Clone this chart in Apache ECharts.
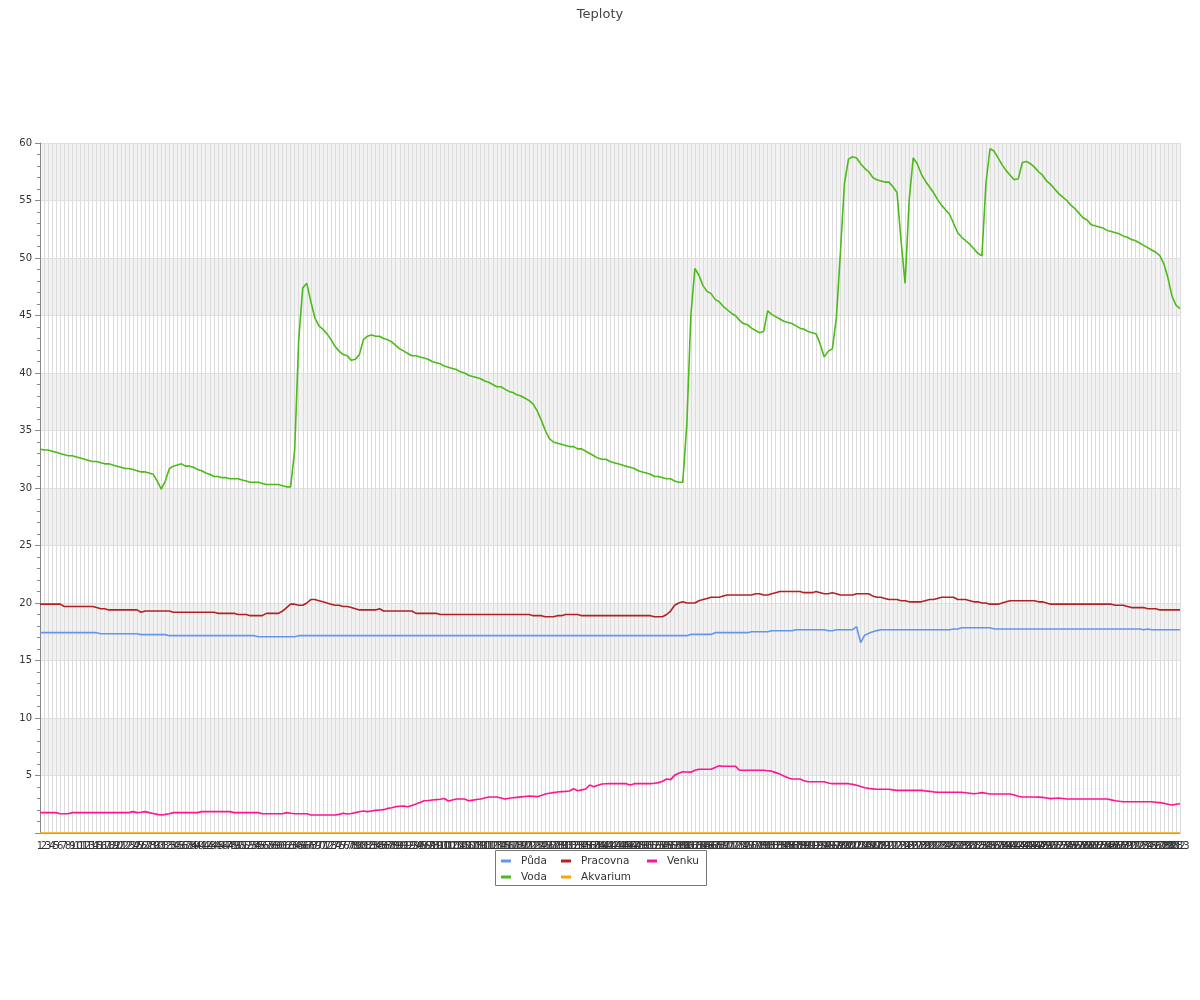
<!DOCTYPE html>
<html>
<head>
<meta charset="utf-8">
<script src="https://cdn.jsdelivr.net/npm/echarts@6/dist/echarts.min.js"></script>
<style>html,body{margin:0;padding:0;background:#fff}#c{width:1200px;height:1000px}</style>
</head>
<body>
<div id="c"></div>
<script>
const titleText = 'Teploty';
const yTicks = [0, 5, 10, 15, 20, 25, 30, 35, 40, 45, 50, 55, 60];

const puda = [
17.42,17.42,17.42,17.42,17.42,17.42,17.42,17.42,17.42,17.42,
17.42,17.42,17.42,17.42,17.42,17.33,17.33,17.33,17.33,17.33,
17.33,17.33,17.33,17.33,17.33,17.25,17.25,17.25,17.25,17.25,
17.25,17.25,17.16,17.16,17.16,17.16,17.16,17.16,17.16,17.16,
17.16,17.16,17.16,17.16,17.16,17.16,17.16,17.16,17.16,17.16,
17.16,17.16,17.16,17.16,17.07,17.07,17.07,17.07,17.07,17.07,
17.07,17.07,17.07,17.07,17.16,17.16,17.16,17.16,17.16,17.16,
17.16,17.16,17.16,17.16,17.16,17.16,17.16,17.16,17.16,17.16,
17.16,17.16,17.16,17.16,17.16,17.16,17.16,17.16,17.16,17.16,
17.16,17.16,17.16,17.16,17.16,17.16,17.16,17.16,17.16,17.16,
17.16,17.16,17.16,17.16,17.16,17.16,17.16,17.16,17.16,17.16,
17.16,17.16,17.16,17.16,17.16,17.16,17.16,17.16,17.16,17.16,
17.16,17.16,17.16,17.16,17.16,17.16,17.16,17.16,17.16,17.16,
17.16,17.16,17.16,17.16,17.16,17.16,17.16,17.16,17.16,17.16,
17.16,17.16,17.16,17.16,17.16,17.16,17.16,17.16,17.16,17.16,
17.16,17.16,17.16,17.16,17.16,17.16,17.16,17.16,17.16,17.16,
17.16,17.27,17.27,17.27,17.27,17.27,17.27,17.42,17.42,17.42,
17.42,17.42,17.42,17.42,17.42,17.42,17.5,17.5,17.5,17.5,
17.5,17.59,17.59,17.59,17.59,17.59,17.59,17.68,17.68,17.68,
17.68,17.68,17.68,17.68,17.68,17.59,17.59,17.68,17.68,17.68,
17.68,17.68,17.94,16.55,17.2,17.36,17.5,17.6,17.68,17.68,
17.68,17.68,17.68,17.68,17.68,17.68,17.68,17.68,17.68,17.68,
17.68,17.68,17.68,17.68,17.68,17.68,17.74,17.74,17.85,17.85,
17.85,17.85,17.85,17.85,17.85,17.85,17.74,17.74,17.74,17.74,
17.74,17.74,17.74,17.74,17.74,17.74,17.74,17.74,17.74,17.74,
17.74,17.74,17.74,17.74,17.74,17.74,17.74,17.74,17.74,17.74,
17.74,17.74,17.74,17.74,17.74,17.74,17.74,17.74,17.74,17.74,
17.74,17.74,17.74,17.68,17.74,17.68,17.68,17.68,17.68,17.68,
17.68,17.68,17.68
];

const voda = [
33.4,33.3,33.3,33.2,33.1,33.0,32.9,32.8,32.8,32.7,
32.6,32.5,32.4,32.3,32.3,32.2,32.1,32.1,32.0,31.9,
31.8,31.7,31.7,31.6,31.5,31.4,31.4,31.3,31.2,30.6,
29.9,30.6,31.7,31.9,32.0,32.1,31.9,31.9,31.8,31.6,
31.5,31.3,31.2,31.0,31.0,30.9,30.9,30.8,30.8,30.8,
30.7,30.6,30.5,30.5,30.5,30.4,30.3,30.3,30.3,30.3,
30.2,30.1,30.1,33.3,42.9,47.4,47.8,46.2,44.8,44.1,
43.8,43.4,42.9,42.3,41.9,41.6,41.5,41.1,41.2,41.6,
42.9,43.2,43.3,43.2,43.2,43.0,42.9,42.7,42.4,42.1,
41.9,41.7,41.5,41.5,41.4,41.3,41.2,41.0,40.9,40.8,
40.6,40.5,40.4,40.3,40.1,40.0,39.8,39.7,39.6,39.5,
39.3,39.2,39.0,38.8,38.8,38.6,38.4,38.3,38.1,38.0,
37.8,37.6,37.3,36.7,35.9,35.0,34.3,34.0,33.9,33.8,
33.7,33.6,33.6,33.4,33.4,33.2,33.0,32.8,32.6,32.5,
32.5,32.3,32.2,32.1,32.0,31.9,31.8,31.7,31.5,31.4,
31.3,31.2,31.0,31.0,30.9,30.8,30.8,30.6,30.5,30.5,
35.5,45.0,49.1,48.5,47.6,47.1,46.9,46.4,46.2,45.8,
45.5,45.2,45.0,44.6,44.3,44.2,43.9,43.7,43.5,43.6,
45.4,45.1,44.9,44.7,44.5,44.4,44.3,44.1,43.9,43.8,
43.6,43.5,43.4,42.5,41.4,41.9,42.1,44.8,50.5,56.5,
58.6,58.8,58.7,58.2,57.8,57.5,57.0,56.8,56.7,56.6,
56.6,56.2,55.7,51.5,47.8,55.0,58.7,58.2,57.3,56.7,
56.2,55.7,55.1,54.6,54.2,53.8,53.0,52.2,51.8,51.5,
51.2,50.8,50.4,50.2,56.5,59.5,59.3,58.7,58.1,57.6,
57.2,56.8,56.9,58.3,58.4,58.2,57.9,57.5,57.2,56.7,
56.4,56.0,55.6,55.3,55.0,54.6,54.3,53.9,53.5,53.3,
52.9,52.8,52.7,52.6,52.4,52.3,52.2,52.1,51.9,51.8,
51.6,51.5,51.3,51.1,50.9,50.7,50.5,50.2,49.5,48.3,
46.7,45.9,45.6
];

const pracovna = [
19.9,19.9,19.9,19.9,19.9,19.9,19.7,19.7,19.7,19.7,
19.7,19.7,19.7,19.7,19.6,19.5,19.5,19.4,19.4,19.4,
19.4,19.4,19.4,19.4,19.4,19.2,19.3,19.3,19.3,19.3,
19.3,19.3,19.3,19.2,19.2,19.2,19.2,19.2,19.2,19.2,
19.2,19.2,19.2,19.2,19.1,19.1,19.1,19.1,19.1,19.0,
19.0,19.0,18.9,18.9,18.9,18.9,19.1,19.1,19.1,19.1,
19.3,19.6,19.9,19.9,19.8,19.8,20.0,20.3,20.3,20.2,
20.1,20.0,19.9,19.8,19.8,19.7,19.7,19.6,19.5,19.4,
19.4,19.4,19.4,19.4,19.5,19.3,19.3,19.3,19.3,19.3,
19.3,19.3,19.3,19.1,19.1,19.1,19.1,19.1,19.1,19.0,
19.0,19.0,19.0,19.0,19.0,19.0,19.0,19.0,19.0,19.0,
19.0,19.0,19.0,19.0,19.0,19.0,19.0,19.0,19.0,19.0,
19.0,19.0,18.9,18.9,18.9,18.8,18.8,18.8,18.9,18.9,
19.0,19.0,19.0,19.0,18.9,18.9,18.9,18.9,18.9,18.9,
18.9,18.9,18.9,18.9,18.9,18.9,18.9,18.9,18.9,18.9,
18.9,18.9,18.8,18.8,18.8,19.0,19.3,19.8,20.0,20.1,
20.0,20.0,20.0,20.2,20.3,20.4,20.5,20.5,20.5,20.6,
20.7,20.7,20.7,20.7,20.7,20.7,20.7,20.8,20.8,20.7,
20.7,20.8,20.9,21.0,21.0,21.0,21.0,21.0,21.0,20.9,
20.9,20.9,21.0,20.9,20.8,20.8,20.9,20.8,20.7,20.7,
20.7,20.7,20.8,20.8,20.8,20.8,20.6,20.5,20.5,20.4,
20.3,20.3,20.3,20.2,20.2,20.1,20.1,20.1,20.1,20.2,
20.3,20.3,20.4,20.5,20.5,20.5,20.5,20.3,20.3,20.3,
20.2,20.1,20.1,20.0,20.0,19.9,19.9,19.9,20.0,20.1,
20.2,20.2,20.2,20.2,20.2,20.2,20.2,20.1,20.1,20.0,
19.9,19.9,19.9,19.9,19.9,19.9,19.9,19.9,19.9,19.9,
19.9,19.9,19.9,19.9,19.9,19.9,19.8,19.8,19.8,19.7,
19.6,19.6,19.6,19.6,19.5,19.5,19.5,19.4,19.4,19.4,
19.4,19.4,19.4
];

const akvarium = [
0,0,0,0,0,0,0,0,0,0, 0,0,0,0,0,0,0,0,0,0, 0,0,0,0,0,0,0,0,0,0,
0,0,0,0,0,0,0,0,0,0, 0,0,0,0,0,0,0,0,0,0, 0,0,0,0,0,0,0,0,0,0,
0,0,0,0,0,0,0,0,0,0, 0,0,0,0,0,0,0,0,0,0, 0,0,0,0,0,0,0,0,0,0,
0,0,0,0,0,0,0,0,0,0, 0,0,0,0,0,0,0,0,0,0, 0,0,0,0,0,0,0,0,0,0,
0,0,0,0,0,0,0,0,0,0, 0,0,0,0,0,0,0,0,0,0, 0,0,0,0,0,0,0,0,0,0,
0,0,0,0,0,0,0,0,0,0, 0,0,0,0,0,0,0,0,0,0, 0,0,0,0,0,0,0,0,0,0,
0,0,0,0,0,0,0,0,0,0, 0,0,0,0,0,0,0,0,0,0, 0,0,0,0,0,0,0,0,0,0,
0,0,0,0,0,0,0,0,0,0, 0,0,0,0,0,0,0,0,0,0, 0,0,0,0,0,0,0,0,0,0,
0,0,0,0,0,0,0,0,0,0, 0,0,0,0,0,0,0,0,0,0, 0,0,0,0,0,0,0,0,0,0,
0,0,0,0,0,0,0,0,0,0, 0,0,0
];

const venku = [
1.77,1.77,1.77,1.77,1.77,1.68,1.68,1.68,1.77,1.77,
1.77,1.77,1.77,1.77,1.77,1.77,1.77,1.77,1.77,1.77,
1.77,1.77,1.77,1.86,1.77,1.8,1.86,1.77,1.7,1.62,
1.57,1.62,1.68,1.77,1.77,1.77,1.77,1.77,1.77,1.77,
1.86,1.86,1.86,1.86,1.86,1.86,1.86,1.86,1.77,1.77,
1.77,1.77,1.77,1.77,1.77,1.68,1.68,1.68,1.68,1.68,
1.68,1.77,1.72,1.68,1.68,1.68,1.68,1.57,1.57,1.57,
1.57,1.57,1.57,1.57,1.62,1.71,1.65,1.7,1.77,1.85,
1.91,1.86,1.92,1.97,2.0,2.03,2.14,2.2,2.29,2.32,
2.35,2.29,2.4,2.52,2.65,2.81,2.83,2.87,2.9,2.93,
3.0,2.78,2.87,2.96,2.96,2.96,2.81,2.86,2.92,2.96,
3.05,3.13,3.13,3.13,3.05,2.96,3.02,3.06,3.1,3.14,
3.18,3.22,3.19,3.16,3.27,3.39,3.45,3.51,3.57,3.6,
3.62,3.65,3.85,3.68,3.75,3.83,4.17,4.03,4.15,4.26,
4.28,4.29,4.29,4.29,4.29,4.29,4.17,4.29,4.29,4.29,
4.29,4.29,4.33,4.38,4.5,4.7,4.64,5.03,5.2,5.32,
5.3,5.29,5.45,5.55,5.55,5.55,5.55,5.7,5.84,5.81,
5.81,5.81,5.81,5.46,5.46,5.46,5.46,5.46,5.46,5.46,
5.42,5.38,5.25,5.12,4.95,4.8,4.69,4.69,4.69,4.55,
4.46,4.46,4.46,4.46,4.46,4.35,4.29,4.29,4.29,4.29,
4.29,4.23,4.15,4.05,3.94,3.88,3.84,3.8,3.8,3.8,
3.8,3.75,3.71,3.71,3.71,3.71,3.71,3.71,3.71,3.66,
3.62,3.58,3.55,3.54,3.54,3.54,3.54,3.54,3.54,3.5,
3.46,3.42,3.46,3.51,3.45,3.39,3.39,3.39,3.39,3.39,
3.39,3.3,3.2,3.13,3.13,3.13,3.13,3.12,3.1,3.05,
2.99,3.02,3.04,3.0,2.96,2.96,2.96,2.96,2.96,2.96,
2.96,2.96,2.96,2.96,2.96,2.88,2.81,2.76,2.72,2.72,
2.72,2.72,2.72,2.72,2.72,2.72,2.68,2.64,2.58,2.5,
2.43,2.5,2.55
];

const seriesNames = ['Půda', 'Voda', 'Pracovna', 'Akvarium', 'Venku'];
const seriesColors = ['#6495ed', '#4cbb17', '#b22222', '#ffa500', '#ff1493'];
const seriesData = [puda, voda, pracovna, akvarium, venku];

// category labels 1..N
const categories = puda.map((_, i) => String(i + 1));

const lens = seriesData.map(a => a.length);
const bad = lens.some(l => l !== lens[0]);

const font = 'DejaVu Sans';
const chart = echarts.init(document.getElementById('c'), null, { renderer: 'canvas' });

const legendBase = {
  orient: 'vertical',
  top: 854,
  padding: 0,
  itemGap: 2,
  itemWidth: 10,
  itemHeight: 3,
  icon: 'rect',
  textStyle: { fontFamily: font, fontSize: 10.5, color: '#333', lineHeight: 14, padding: [0, 0, 0, 5] }
};

chart.setOption({
  animation: false,
  backgroundColor: '#ffffff',
  title: {
    text: titleText,
    subtext: bad ? ('LEN ' + lens.join(',')) : '',
    left: 'center',
    top: 3,
    textStyle: { fontFamily: font, fontSize: 13, fontWeight: 'normal', color: '#444' }
  },
  legend: [
    Object.assign({}, legendBase, { left: 501, data: ['Půda', 'Voda'] }),
    Object.assign({}, legendBase, { left: 561, data: ['Pracovna', 'Akvarium'] }),
    Object.assign({}, legendBase, { left: 647, data: ['Venku'] })
  ],
  graphic: [{
    type: 'rect',
    shape: { x: 495.5, y: 850.5, width: 211, height: 35 },
    style: { fill: 'none', stroke: '#777', lineWidth: 1 },
    silent: true
  }],
  grid: { left: 40, right: 20, top: 143, bottom: 167, containLabel: false },
  xAxis: {
    type: 'category',
    data: categories,
    boundaryGap: false,
    axisLine: { show: true, lineStyle: { color: '#888' } },
    axisTick: { show: false },
    axisLabel: { interval: 0, fontFamily: font, fontSize: 10, color: '#333', margin: 8, hideOverlap: false },
    splitLine: { show: true, interval: 0, lineStyle: { color: '#dcdcdc', width: 1 } }
  },
  yAxis: {
    type: 'value',
    min: yTicks[0],
    max: yTicks[yTicks.length - 1],
    interval: yTicks[1] - yTicks[0],
    axisLine: { show: true, lineStyle: { color: '#888' } },
    axisTick: { show: true, length: 5, lineStyle: { color: '#888' } },
    minorTick: { show: true, splitNumber: 5, length: 3, lineStyle: { color: '#888' } },
    axisLabel: { showMinLabel: false, fontFamily: font, fontSize: 10, color: '#333', margin: 8 },
    splitLine: { show: true, lineStyle: { color: '#e0e0e0' } },
    splitArea: { show: true, areaStyle: { color: ['rgba(255,255,255,0)', '#f2f2f2'] } }
  },
  series: seriesNames.map((n, k) => ({
    name: n,
    type: 'line',
    data: seriesData[k],
    symbol: 'none',
    showSymbol: false,
    color: seriesColors[k],
    lineStyle: { width: 1.6, color: seriesColors[k] },
    emphasis: { disabled: true }
  }))
});
</script>
</body>
</html>
